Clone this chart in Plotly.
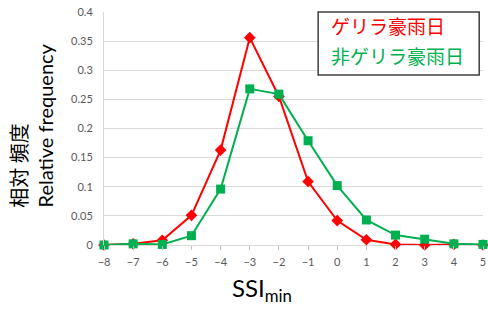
import plotly.graph_objects as go

x_vals = [-8, -7, -6, -5, -4, -3, -2, -1, 0, 1, 2, 3, 4, 5]
guerrilla = [0.0, 0.002, 0.008, 0.051, 0.163, 0.356, 0.255, 0.109, 0.042, 0.009, 0.001, 0.0, 0.001, 0.0]
non_guerrilla = [0.0, 0.002, 0.001, 0.016, 0.096, 0.268, 0.259, 0.179, 0.102, 0.043, 0.017, 0.010, 0.002, 0.001]
y_ticks = [0, 0.05, 0.1, 0.15, 0.2, 0.25, 0.3, 0.35, 0.4]
y_ticklabels = ["0", "0.05", "0.1", "0.15", "0.2", "0.25", "0.3", "0.35", "0.4"]
name_red = "ゲリラ豪雨日"
name_green = "非ゲリラ豪雨日"
ytitle_jp = "相対 頻度"
ytitle_en = "Relative frequency"
xtitle = "SSI<sub>min</sub>"

RED = "#FF0000"
GREEN = "#00B050"
JP = "Noto Sans CJK JP"
LAT = "Lato, Noto Sans CJK JP"

fig = go.Figure()
fig.add_trace(go.Scatter(x=x_vals, y=guerrilla, mode="lines+markers", name=name_red,
                         line=dict(color=RED, width=2),
                         marker=dict(symbol="diamond", size=9, color=RED),
                         cliponaxis=False))
fig.add_trace(go.Scatter(x=x_vals, y=non_guerrilla, mode="lines+markers", name=name_green,
                         line=dict(color=GREEN, width=2),
                         marker=dict(symbol="square", size=9, color=GREEN),
                         cliponaxis=False))

fig.update_layout(
    width=488, height=309,
    margin=dict(l=104, r=2, t=12, b=64),
    paper_bgcolor="white", plot_bgcolor="white",
    showlegend=False,
    font=dict(family=LAT, color="#595959"),
    xaxis=dict(range=[-8, 5], tickmode="array", tickvals=x_vals,
               showgrid=False, zeroline=False, showline=False,
               ticks="outside", ticklen=4, tickcolor="#bfbfbf",
               ticklabelstandoff=3,
               ticklabeloverflow="allow",
               tickfont=dict(size=11, color="#595959")),
    yaxis=dict(range=[0, 0.4], tickmode="array", tickvals=y_ticks, ticktext=y_ticklabels,
               showgrid=True, gridcolor="#d9d9d9", gridwidth=1,
               zeroline=True, zerolinecolor="#d9d9d9", zerolinewidth=1,
               showline=True, linecolor="#d9d9d9", linewidth=1,
               ticks="", ticklabelstandoff=8,
               tickfont=dict(size=11, color="#595959")),
)

# legend box
fig.add_shape(type="rect", xref="paper", yref="paper",
              x0=0.565, x1=0.990, y0=0.73, y1=1.0,
              line=dict(color="#404040", width=1.5), fillcolor="white", layer="above")
fig.add_annotation(text=name_red, xref="paper", yref="paper", x=0.594, y=0.94,
                   xanchor="left", yanchor="middle", showarrow=False,
                   font=dict(family=JP, size=19, color=RED))
fig.add_annotation(text=name_green, xref="paper", yref="paper", x=0.594, y=0.815,
                   xanchor="left", yanchor="middle", showarrow=False,
                   font=dict(family=JP, size=19, color=GREEN))

# axis titles
fig.add_annotation(text=ytitle_jp, xref="paper", yref="paper",
                   x=(17 - 104) / 382, y=(245 - 210) / 233, xanchor="center", yanchor="bottom",
                   textangle=-90, showarrow=False,
                   font=dict(family=JP, size=20, color="#000000"))
fig.add_annotation(text=ytitle_en, xref="paper", yref="paper",
                   x=(45 - 104) / 382, y=(245 - 209) / 233, xanchor="center", yanchor="bottom",
                   textangle=-90, showarrow=False,
                   font=dict(family=LAT, size=20, color="#000000"))
fig.add_annotation(text=xtitle, xref="paper", yref="paper",
                   x=(263 - 104) / 382, y=(245 - 289) / 233, xanchor="center", yanchor="middle",
                   showarrow=False,
                   font=dict(family=LAT, size=24, color="#000000"))

fig.write_html("out.html", config={"displayModeBar": False},
               post_script="document.body.style.margin='0';document.body.style.overflow='hidden';")
